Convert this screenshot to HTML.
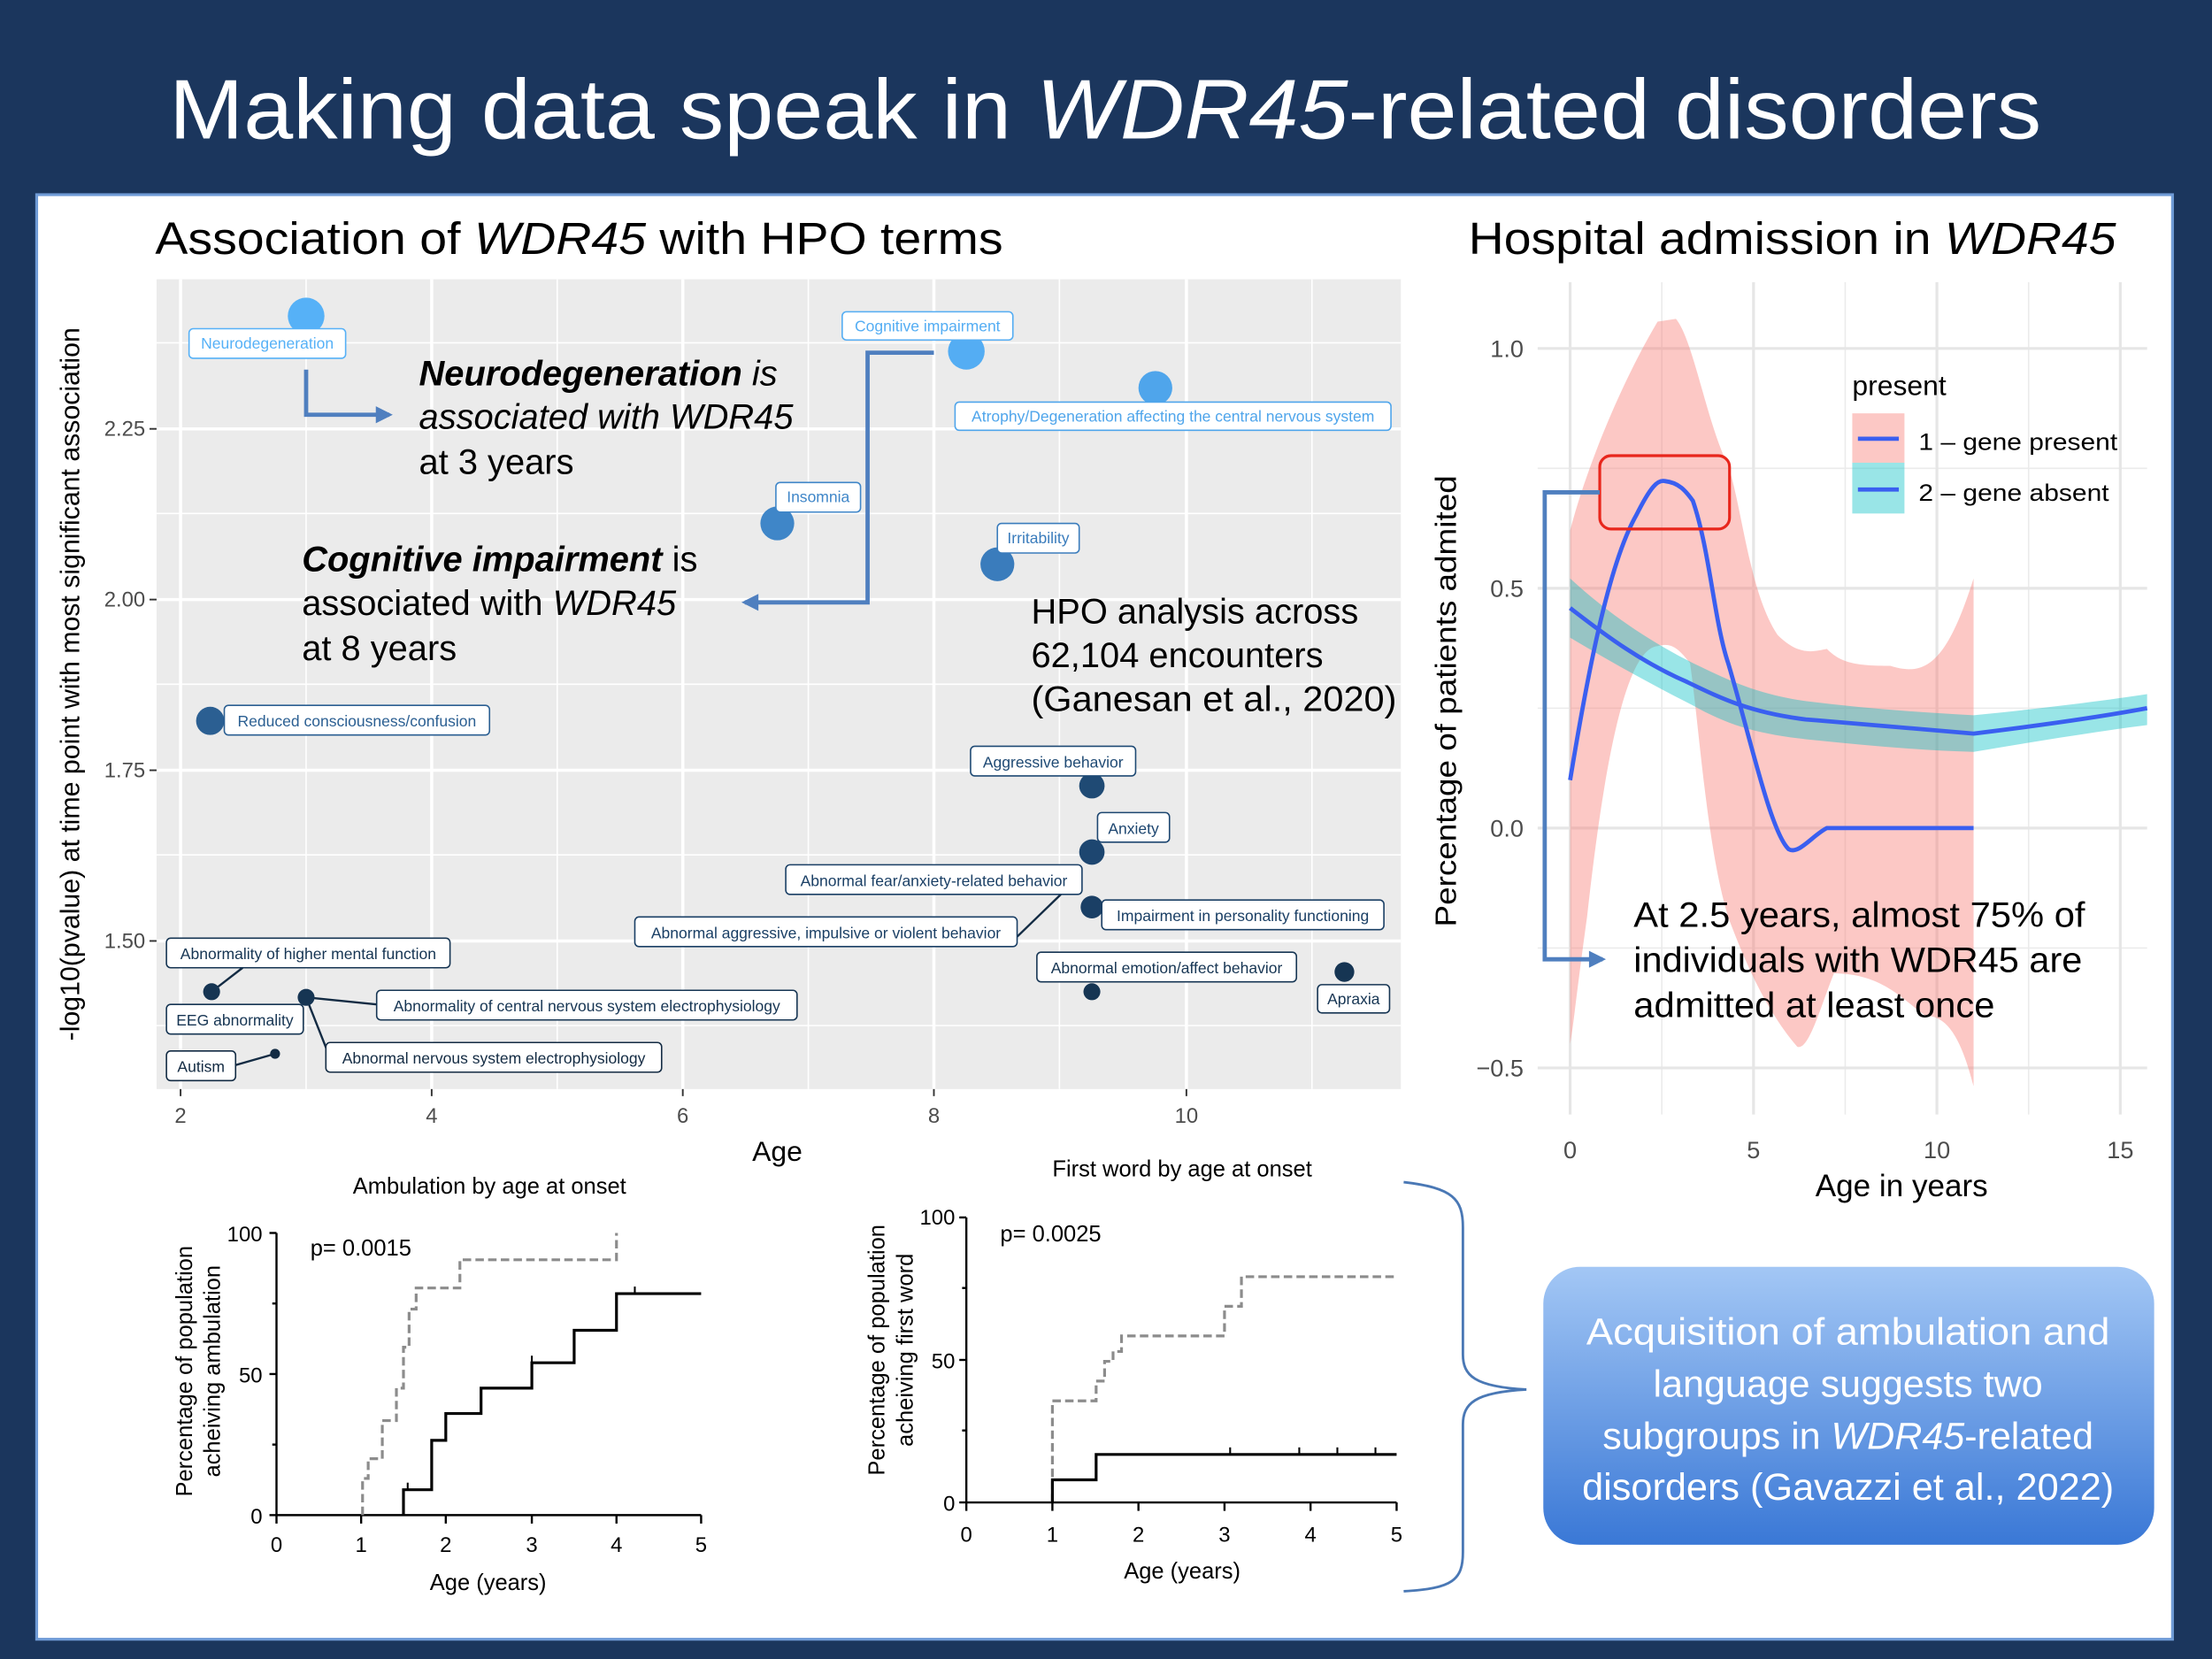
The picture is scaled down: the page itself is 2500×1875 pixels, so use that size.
<!DOCTYPE html>
<html><head><meta charset="utf-8"><style>
html,body{margin:0;padding:0;background:#1b365d;}
svg{display:block;}
text{font-family:"Liberation Sans",sans-serif;}
</style></head><body>
<svg width="2500" height="1875" viewBox="0 0 1568 1176" xmlns="http://www.w3.org/2000/svg">
<defs>
<linearGradient id="bg1" x1="0" y1="0" x2="0" y2="1"><stop offset="0" stop-color="#a3c7f5"/><stop offset="1" stop-color="#3a78d6"/></linearGradient>
<marker id="ah2" viewBox="0 0 10 10" markerWidth="14" markerHeight="12" refX="8" refY="5" orient="auto" markerUnits="userSpaceOnUse"><path d="M0,0 L10,5 L0,10 z" fill="#4f7fbf"/></marker>
</defs>
<rect width="1568" height="1176" fill="#1b365d"/>
<text x="120" y="98" font-size="60" fill="#fff" textLength="1327" lengthAdjust="spacingAndGlyphs">Making data speak in <tspan font-style="italic">WDR45</tspan>-related disorders</text>
<rect x="26" y="138" width="1514" height="1024" fill="#fff" stroke="#6f9bd6" stroke-width="2"/>

<!-- Left plot -->
<text x="110" y="180" font-size="32" fill="#000" textLength="601" lengthAdjust="spacingAndGlyphs">Association of <tspan font-style="italic">WDR45</tspan> with HPO terms</text>
<rect x="111" y="198" width="882" height="574" fill="#ebebeb"/>
<g stroke="#fff" stroke-width="1">
<line x1="217" y1="198" x2="217" y2="772"/><line x1="395" y1="198" x2="395" y2="772"/><line x1="573" y1="198" x2="573" y2="772"/><line x1="751" y1="198" x2="751" y2="772"/><line x1="930" y1="198" x2="930" y2="772"/>
<line x1="111" y1="243" x2="993" y2="243"/><line x1="111" y1="364" x2="993" y2="364"/><line x1="111" y1="485" x2="993" y2="485"/><line x1="111" y1="606" x2="993" y2="606"/><line x1="111" y1="727" x2="993" y2="727"/>
</g>
<g stroke="#fff" stroke-width="2.2">
<line x1="128" y1="198" x2="128" y2="772"/><line x1="306" y1="198" x2="306" y2="772"/><line x1="484" y1="198" x2="484" y2="772"/><line x1="662" y1="198" x2="662" y2="772"/><line x1="841" y1="198" x2="841" y2="772"/>
<line x1="111" y1="304" x2="993" y2="304"/><line x1="111" y1="425" x2="993" y2="425"/><line x1="111" y1="546" x2="993" y2="546"/><line x1="111" y1="667" x2="993" y2="667"/>
</g>
<g stroke="#333" stroke-width="1.2">
<line x1="106" y1="304" x2="111" y2="304"/><line x1="106" y1="425" x2="111" y2="425"/><line x1="106" y1="546" x2="111" y2="546"/><line x1="106" y1="667" x2="111" y2="667"/>
<line x1="128" y1="772" x2="128" y2="777"/><line x1="306" y1="772" x2="306" y2="777"/><line x1="484" y1="772" x2="484" y2="777"/><line x1="662" y1="772" x2="662" y2="777"/><line x1="841" y1="772" x2="841" y2="777"/>
</g>
<g font-size="15" fill="#4d4d4d" text-anchor="end">
<text x="103" y="309">2.25</text><text x="103" y="430">2.00</text><text x="103" y="551">1.75</text><text x="103" y="672">1.50</text>
</g>
<g font-size="15" fill="#4d4d4d" text-anchor="middle">
<text x="128" y="796">2</text><text x="306" y="796">4</text><text x="484" y="796">6</text><text x="662" y="796">8</text><text x="841" y="796">10</text>
</g>
<text x="551" y="823" font-size="20" text-anchor="middle">Age</text>
<text transform="translate(56,485) rotate(-90)" font-size="19" text-anchor="middle">-log10(pvalue) at time point with most significant association</text>

<g stroke="#132b43" stroke-width="1.5">
<line x1="150" y1="703" x2="172" y2="686"/>
<line x1="217" y1="707" x2="267" y2="712"/>
<line x1="217" y1="707" x2="234" y2="750"/>
<line x1="167" y1="755" x2="195" y2="747"/>
<line x1="721" y1="664" x2="752" y2="634"/>
</g>
<circle cx="217" cy="224" r="13" fill="#56b1f7"/>
<circle cx="685" cy="249" r="13" fill="#54adf3"/>
<circle cx="819" cy="275" r="12" fill="#4fa5eb"/>
<circle cx="551" cy="371" r="12" fill="#3f86c8"/>
<circle cx="707" cy="400" r="12" fill="#3a7cbc"/>
<circle cx="149" cy="511" r="10" fill="#2b5f92"/>
<circle cx="774" cy="557" r="9" fill="#1f4a74"/>
<circle cx="774" cy="604" r="9" fill="#1d4670"/>
<circle cx="774" cy="643" r="8" fill="#1a3f65"/>
<circle cx="150" cy="703" r="6" fill="#163553"/>
<circle cx="217" cy="707" r="6" fill="#163553"/>
<circle cx="774" cy="703" r="6" fill="#163553"/>
<circle cx="953" cy="689" r="7" fill="#163553"/>
<circle cx="195" cy="747" r="3.5" fill="#132b43"/>
<g font-size="11">
<rect x="134" y="233" width="111" height="21" rx="3" fill="#fff" stroke="#56b1f7"/><text x="189.5" y="247" text-anchor="middle" fill="#56b1f7">Neurodegeneration</text>
<rect x="597" y="221" width="121" height="20" rx="3" fill="#fff" stroke="#54adf3"/><text x="657.5" y="235" text-anchor="middle" fill="#54adf3">Cognitive impairment</text>
<rect x="677" y="285" width="309" height="20" rx="3" fill="#fff" stroke="#4fa5eb"/><text x="831.5" y="299" text-anchor="middle" fill="#4fa5eb">Atrophy/Degeneration affecting the central nervous system</text>
<rect x="550" y="342" width="60" height="21" rx="3" fill="#fff" stroke="#3f86c8"/><text x="580" y="356" text-anchor="middle" fill="#3f86c8">Insomnia</text>
<rect x="707" y="371" width="58" height="21" rx="3" fill="#fff" stroke="#3a7cbc"/><text x="736" y="385" text-anchor="middle" fill="#3a7cbc">Irritability</text>
<rect x="159" y="500" width="188" height="21" rx="3" fill="#fff" stroke="#2b5f92"/><text x="253" y="515" text-anchor="middle" fill="#2b5f92">Reduced consciousness/confusion</text>
<rect x="688" y="529" width="117" height="21" rx="3" fill="#fff" stroke="#1f4a74"/><text x="746.5" y="544" text-anchor="middle" fill="#1f4a74">Aggressive behavior</text>
<rect x="778" y="576" width="51" height="21" rx="3" fill="#fff" stroke="#1d4670"/><text x="803.5" y="591" text-anchor="middle" fill="#1d4670">Anxiety</text>
<rect x="557" y="613" width="210" height="21" rx="3" fill="#fff" stroke="#1a3f65"/><text x="662" y="628" text-anchor="middle" fill="#1a3f65">Abnormal fear/anxiety-related behavior</text>
<rect x="781" y="638" width="200" height="21" rx="3" fill="#fff" stroke="#1a3f65"/><text x="881" y="653" text-anchor="middle" fill="#1a3f65">Impairment in personality functioning</text>
<rect x="450" y="650" width="271" height="21" rx="3" fill="#fff" stroke="#1a3f65"/><text x="585.5" y="665" text-anchor="middle" fill="#1a3f65">Abnormal aggressive, impulsive or violent behavior</text>
<rect x="118" y="665" width="201" height="21" rx="3" fill="#fff" stroke="#163553"/><text x="218.5" y="680" text-anchor="middle" fill="#163553">Abnormality of higher mental function</text>
<rect x="735" y="675" width="184" height="21" rx="3" fill="#fff" stroke="#163553"/><text x="827" y="690" text-anchor="middle" fill="#163553">Abnormal emotion/affect behavior</text>
<rect x="934" y="698" width="51" height="20" rx="3" fill="#fff" stroke="#163553"/><text x="959.5" y="712" text-anchor="middle" fill="#163553">Apraxia</text>
<rect x="267" y="702" width="298" height="21" rx="3" fill="#fff" stroke="#163553"/><text x="416" y="717" text-anchor="middle" fill="#163553">Abnormality of central nervous system electrophysiology</text>
<rect x="118" y="712" width="97" height="21" rx="3" fill="#fff" stroke="#163553"/><text x="166.5" y="727" text-anchor="middle" fill="#163553">EEG abnormality</text>
<rect x="231" y="739" width="238" height="21" rx="3" fill="#fff" stroke="#132b43"/><text x="350" y="754" text-anchor="middle" fill="#132b43">Abnormal nervous system electrophysiology</text>
<rect x="118" y="745" width="49" height="21" rx="3" fill="#fff" stroke="#132b43"/><text x="142.5" y="760" text-anchor="middle" fill="#132b43">Autism</text>
</g>
<polyline points="217,262 217,294 276,294" fill="none" stroke="#4f7fbf" stroke-width="3" marker-end="url(#ah2)"/>
<polyline points="662,250 615,250 615,427 528,427" fill="none" stroke="#4f7fbf" stroke-width="3" marker-end="url(#ah2)"/>
<g font-size="25" fill="#000">
<text x="297" y="273"><tspan font-weight="bold" font-style="italic">Neurodegeneration</tspan><tspan font-style="italic"> is</tspan></text>
<text x="297" y="304" font-style="italic">associated with WDR45</text>
<text x="297" y="336">at 3 years</text>
<text x="214" y="405"><tspan font-weight="bold" font-style="italic">Cognitive impairment</tspan> is</text>
<text x="214" y="436">associated with <tspan font-style="italic">WDR45</tspan></text>
<text x="214" y="468">at 8 years</text>
<text x="731" y="442">HPO analysis across</text>
<text x="731" y="473">62,104 encounters</text>
<text x="731" y="504" textLength="259" lengthAdjust="spacingAndGlyphs">(Ganesan et al., 2020)</text>
</g>

<!-- Right plot -->
<text x="1041" y="180" font-size="32" textLength="459" lengthAdjust="spacingAndGlyphs">Hospital admission in <tspan font-style="italic">WDR45</tspan></text>
<g stroke="#ebebeb" stroke-width="1">
<line x1="1178" y1="200" x2="1178" y2="790"/><line x1="1308" y1="200" x2="1308" y2="790"/><line x1="1438" y1="200" x2="1438" y2="790"/>
<line x1="1090" y1="332" x2="1522" y2="332"/><line x1="1090" y1="502" x2="1522" y2="502"/><line x1="1090" y1="672" x2="1522" y2="672"/>
</g>
<g stroke="#e6e6e6" stroke-width="2">
<line x1="1113" y1="200" x2="1113" y2="790"/><line x1="1243" y1="200" x2="1243" y2="790"/><line x1="1373" y1="200" x2="1373" y2="790"/><line x1="1503" y1="200" x2="1503" y2="790"/>
<line x1="1090" y1="247" x2="1522" y2="247"/><line x1="1090" y1="417" x2="1522" y2="417"/><line x1="1090" y1="587" x2="1522" y2="587"/><line x1="1090" y1="757" x2="1522" y2="757"/>
</g>
<path d="M1113,376 C1125,330 1150,270 1175,228 L1188,226 C1200,240 1210,300 1225,330 C1235,360 1240,420 1260,450 C1275,465 1285,462 1295,460 C1305,470 1315,472 1340,472 C1365,480 1380,470 1399,410 L1399,770 C1390,735 1380,720 1365,720 C1350,710 1335,690 1300,690 C1290,715 1282,745 1274,742 C1255,720 1240,690 1225,650 C1210,600 1205,520 1198,470 C1190,460 1185,455 1175,458 C1150,460 1135,560 1125,650 C1118,700 1115,730 1113,740 Z" fill="#f8766d" fill-opacity="0.4"/>
<path d="M1113,410 C1140,435 1170,455 1200,470 C1225,482 1245,492 1280,497 C1320,502 1360,505 1399,507 C1440,503 1490,497 1522,492 L1522,514 C1490,518 1440,526 1399,533 C1360,532 1320,528 1280,524 C1245,520 1225,514 1200,500 C1170,485 1140,468 1113,452 Z" fill="#00bfc4" fill-opacity="0.4"/>
<path d="M1113,431 C1140,452 1165,470 1195,483 C1220,495 1240,505 1280,510 C1320,513 1360,517 1399,520 C1440,515 1490,508 1522,502" fill="none" stroke="#3a5ff0" stroke-width="3"/>
<path d="M1113,553 C1125,480 1140,400 1160,365 C1170,345 1175,340 1180,341 C1190,342 1195,348 1200,355 C1212,390 1215,440 1225,470 C1240,520 1255,590 1268,602 C1275,606 1285,592 1295,587 L1399,587" fill="none" stroke="#3a5ff0" stroke-width="3"/>
<rect x="1134" y="323" width="92" height="52" rx="8" fill="none" stroke="#e8261c" stroke-width="2"/>
<polyline points="1134,349 1095,349 1095,680 1136,680" fill="none" stroke="#4f7fbf" stroke-width="3" marker-end="url(#ah2)"/>
<g font-size="17" fill="#4d4d4d" text-anchor="end">
<text x="1080" y="253">1.0</text><text x="1080" y="423">0.5</text><text x="1080" y="593">0.0</text><text x="1080" y="763">−0.5</text>
</g>
<g font-size="17" fill="#4d4d4d" text-anchor="middle">
<text x="1113" y="821">0</text><text x="1243" y="821">5</text><text x="1373" y="821">10</text><text x="1503" y="821">15</text>
</g>
<text x="1348" y="848" font-size="22" text-anchor="middle">Age in years</text>
<text transform="translate(1032,497) rotate(-90)" font-size="21" text-anchor="middle" textLength="320" lengthAdjust="spacingAndGlyphs">Percentage of patients admited</text>
<text x="1313" y="280" font-size="20">present</text>
<rect x="1313" y="293" width="37" height="35" fill="#f8766d" fill-opacity="0.4"/>
<rect x="1313" y="328" width="37" height="36" fill="#00bfc4" fill-opacity="0.4"/>
<line x1="1317" y1="311" x2="1346" y2="311" stroke="#3a5ff0" stroke-width="3"/>
<line x1="1317" y1="347" x2="1346" y2="347" stroke="#3a5ff0" stroke-width="3"/>
<text x="1360" y="319" font-size="17" textLength="141" lengthAdjust="spacingAndGlyphs">1 – gene present</text>
<text x="1360" y="355" font-size="17" textLength="135" lengthAdjust="spacingAndGlyphs">2 – gene absent</text>
<g font-size="25">
<text x="1158" y="657" textLength="320" lengthAdjust="spacingAndGlyphs">At 2.5 years, almost 75% of</text>
<text x="1158" y="689" textLength="318" lengthAdjust="spacingAndGlyphs">individuals with WDR45 are</text>
<text x="1158" y="721" textLength="256" lengthAdjust="spacingAndGlyphs">admitted at least once</text>
</g>

<!-- Ambulation plot -->
<text x="347" y="846" font-size="16" text-anchor="middle">Ambulation by age at onset</text>
<g stroke="#000" stroke-width="1.5" fill="none">
<line x1="196" y1="874" x2="196" y2="1074"/><line x1="196" y1="1074" x2="497" y2="1074"/>
<line x1="191" y1="874" x2="196" y2="874"/><line x1="191" y1="974" x2="196" y2="974"/><line x1="191" y1="1074" x2="196" y2="1074"/>
<line x1="193" y1="924" x2="196" y2="924"/><line x1="193" y1="1024" x2="196" y2="1024"/>
<line x1="196" y1="1074" x2="196" y2="1080"/><line x1="256" y1="1074" x2="256" y2="1080"/><line x1="316" y1="1074" x2="316" y2="1080"/><line x1="377" y1="1074" x2="377" y2="1080"/><line x1="437" y1="1074" x2="437" y2="1080"/><line x1="497" y1="1074" x2="497" y2="1080"/>
</g>
<g font-size="15" text-anchor="end"><text x="186" y="880">100</text><text x="186" y="980">50</text><text x="186" y="1080">0</text></g>
<g font-size="15" text-anchor="middle"><text x="196" y="1100">0</text><text x="256" y="1100">1</text><text x="316" y="1100">2</text><text x="377" y="1100">3</text><text x="437" y="1100">4</text><text x="497" y="1100">5</text></g>
<text x="346" y="1127" font-size="16" text-anchor="middle">Age (years)</text>
<text x="220" y="890" font-size="16">p= 0.0015</text>
<text transform="translate(136,972) rotate(-90)" font-size="16" text-anchor="middle">Percentage of population</text>
<text transform="translate(156,972) rotate(-90)" font-size="16" text-anchor="middle">acheiving ambulation</text>
<polyline points="257,1074 257,1048 261,1048 261,1034 271,1034 271,1007 281,1007 281,984 286,984 286,955 290,955 290,928 295,928 295,913 326,913 326,893 437,893 437,874" fill="none" stroke="#8c8c8c" stroke-width="2" stroke-dasharray="6,3"/>
<polyline points="286,1074 286,1056 306,1056 306,1021 316,1021 316,1002 341,1002 341,984 377,984 377,966 407,966 407,943 437,943 437,917 497,917" fill="none" stroke="#000" stroke-width="2"/>
<g stroke="#000" stroke-width="1.3"><line x1="289" y1="1051" x2="289" y2="1056"/><line x1="377" y1="961" x2="377" y2="966"/><line x1="450" y1="912" x2="450" y2="917"/></g>

<!-- First word plot -->
<text x="838" y="834" font-size="16" text-anchor="middle">First word by age at onset</text>
<g stroke="#000" stroke-width="1.5" fill="none">
<line x1="685" y1="863" x2="685" y2="1065"/><line x1="685" y1="1065" x2="990" y2="1065"/>
<line x1="680" y1="863" x2="685" y2="863"/><line x1="680" y1="964" x2="685" y2="964"/><line x1="680" y1="1065" x2="685" y2="1065"/>
<line x1="682" y1="913" x2="685" y2="913"/><line x1="682" y1="1014" x2="685" y2="1014"/>
<line x1="685" y1="1065" x2="685" y2="1071"/><line x1="746" y1="1065" x2="746" y2="1071"/><line x1="807" y1="1065" x2="807" y2="1071"/><line x1="868" y1="1065" x2="868" y2="1071"/><line x1="929" y1="1065" x2="929" y2="1071"/><line x1="990" y1="1065" x2="990" y2="1071"/>
</g>
<g font-size="15" text-anchor="end"><text x="677" y="868">100</text><text x="677" y="970">50</text><text x="677" y="1071">0</text></g>
<g font-size="15" text-anchor="middle"><text x="685" y="1093">0</text><text x="746" y="1093">1</text><text x="807" y="1093">2</text><text x="868" y="1093">3</text><text x="929" y="1093">4</text><text x="990" y="1093">5</text></g>
<text x="838" y="1119" font-size="16" text-anchor="middle">Age (years)</text>
<text x="709" y="880" font-size="16">p= 0.0025</text>
<text transform="translate(627,957) rotate(-90)" font-size="16" text-anchor="middle">Percentage of population</text>
<text transform="translate(647,957) rotate(-90)" font-size="16" text-anchor="middle">acheiving first word</text>
<polyline points="746,1065 746,993 777,993 777,979 783,979 783,965 789,965 789,958 795,958 795,947 868,947 868,926 880,926 880,905 990,905" fill="none" stroke="#8c8c8c" stroke-width="2" stroke-dasharray="6,3"/>
<polyline points="746,1065 746,1049 777,1049 777,1031 990,1031" fill="none" stroke="#000" stroke-width="2"/>
<g stroke="#000" stroke-width="1.3"><line x1="872" y1="1026" x2="872" y2="1031"/><line x1="921" y1="1026" x2="921" y2="1031"/><line x1="948" y1="1026" x2="948" y2="1031"/><line x1="975" y1="1026" x2="975" y2="1031"/></g>

<path d="M995,838 C1030,842 1037,850 1037,870 L1037,960 C1037,975 1045,983 1082,985 C1045,987 1037,995 1037,1010 L1037,1100 C1037,1120 1030,1126 995,1128" fill="none" stroke="#4a78b5" stroke-width="1.8"/>

<rect x="1094" y="898" width="433" height="197" rx="26" fill="url(#bg1)"/>
<g font-size="27" fill="#fff" text-anchor="middle">
<text x="1310" y="953" textLength="371" lengthAdjust="spacingAndGlyphs">Acquisition of ambulation and</text>
<text x="1310" y="990">language suggests two</text>
<text x="1310" y="1027">subgroups in <tspan font-style="italic">WDR45</tspan>-related</text>
<text x="1310" y="1063" textLength="377" lengthAdjust="spacingAndGlyphs">disorders (Gavazzi et al., 2022)</text>
</g>
</svg>
</body></html>
